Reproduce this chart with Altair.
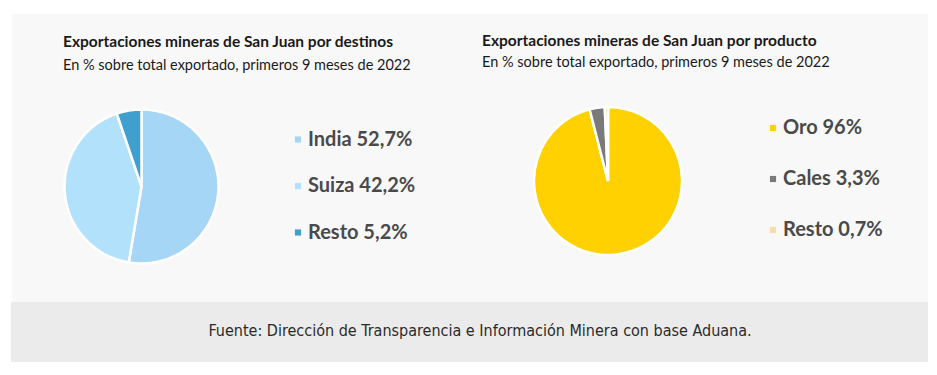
import altair as alt
import pandas as pd

# ---- data ----
dest_names = ["India", "Suiza", "Resto"]
dest_values = [52.7, 42.2, 5.2]
dest_colors = ["#a6d6f6", "#b2e2fb", "#3f9fcf"]

prod_names = ["Oro", "Cales", "Resto"]
prod_values = [96, 3.3, 0.7]
prod_colors = ["#ffd100", "#7a7a7a", "#f8dca6"]

title_left = "Exportaciones mineras de San Juan por destinos"
title_right = "Exportaciones mineras de San Juan por producto"
subtitle = "En % sobre total exportado, primeros 9 meses de 2022"
source = "Fuente: Dirección de Transparencia e Información Minera con base Aduana."


def fmt(v):
    return str(v).replace(".", ",") + "%"


def make_df(names, values):
    return pd.DataFrame({
        "name": names,
        "value": values,
        "order": list(range(len(names))),
        "label": [f"{n} {fmt(v)}" for n, v in zip(names, values)],
    })


dest_df = make_df(dest_names, dest_values)
prod_df = make_df(prod_names, prod_values)
one = pd.DataFrame({"a": [0]})

O = 8  # page margin offset


def rect(x0, y0, x1, y1, color):
    return alt.Chart(one).mark_rect(color=color).encode(
        x=alt.value(x0 - O), x2=alt.value(x1 - O),
        y=alt.value(y0 - O), y2=alt.value(y1 - O))


def text(t, x, y, size, weight="normal", color="#1a1a1a", font="Lato", align="left"):
    return alt.Chart(one).mark_text(
        align=align, baseline="alphabetic", font=font, fontSize=size,
        fontWeight=weight, color=color).encode(
        x=alt.value(x - O), y=alt.value(y - O), text=alt.value(t))


def pie(df, colors, cx, cy, r):
    return alt.Chart(df).mark_arc(radius=r, stroke="white", strokeWidth=2.5).encode(
        theta=alt.Theta("value:Q", stack=True),
        order=alt.Order("order:Q"),
        color=alt.Color("name:N", scale=alt.Scale(domain=list(df["name"]), range=colors), legend=None),
        x=alt.value(cx - O), y=alt.value(cy - O))


def legend(df, colors, x_sq, x_txt, y0, y1):
    yenc = alt.Y("label:N", sort=list(df["label"]),
                 scale=alt.Scale(type="point", range=[y0 - O, y1 - O], padding=0), axis=None)
    sq = alt.Chart().mark_square(size=38, opacity=1).encode(
        x=alt.value(x_sq - O), y=yenc,
        color=alt.Color("name:N", scale=alt.Scale(domain=list(df["name"]), range=colors), legend=None))
    txt = alt.Chart().mark_text(align="left", baseline="middle", font="Lato", fontWeight="bold",
                                fontSize=20, color="#4a4a4a").encode(
        x=alt.value(x_txt - O), y=yenc, text="label:N")
    return alt.layer(sq, txt, data=df)


layers = [
    rect(12, 14, 928, 302, "#f8f8f9"),
    rect(11, 302, 928, 362, "#ebebeb"),
    text(title_left, 63, 47, 15.5, "bold"),
    text(subtitle, 63, 70, 14.5),
    text(title_right, 482, 46, 15.5, "bold"),
    text(subtitle, 482, 67, 14.5),
    text(source, 480, 336, 16, color="#2a2a2a",
         font="DejaVu Sans Condensed, Roboto Condensed, Roboto, sans-serif", align="center"),
    pie(dest_df, dest_colors, 141.5, 186.5, 77),
    pie(prod_df, prod_colors, 608, 181, 74),
    legend(dest_df, dest_colors, 298, 308, 139.5, 232.5),
    legend(prod_df, prod_colors, 773, 783, 128, 230),
]

chart = alt.layer(*layers).resolve_scale(
    color="independent", theta="independent", y="independent"
).properties(
    width=921, height=359, padding=0, background="white",
    autosize=alt.AutoSizeParams(type="fit", contains="padding"),
).configure_view(stroke=None)

chart.save("out.html", embed_options={"renderer": "svg", "actions": False})
